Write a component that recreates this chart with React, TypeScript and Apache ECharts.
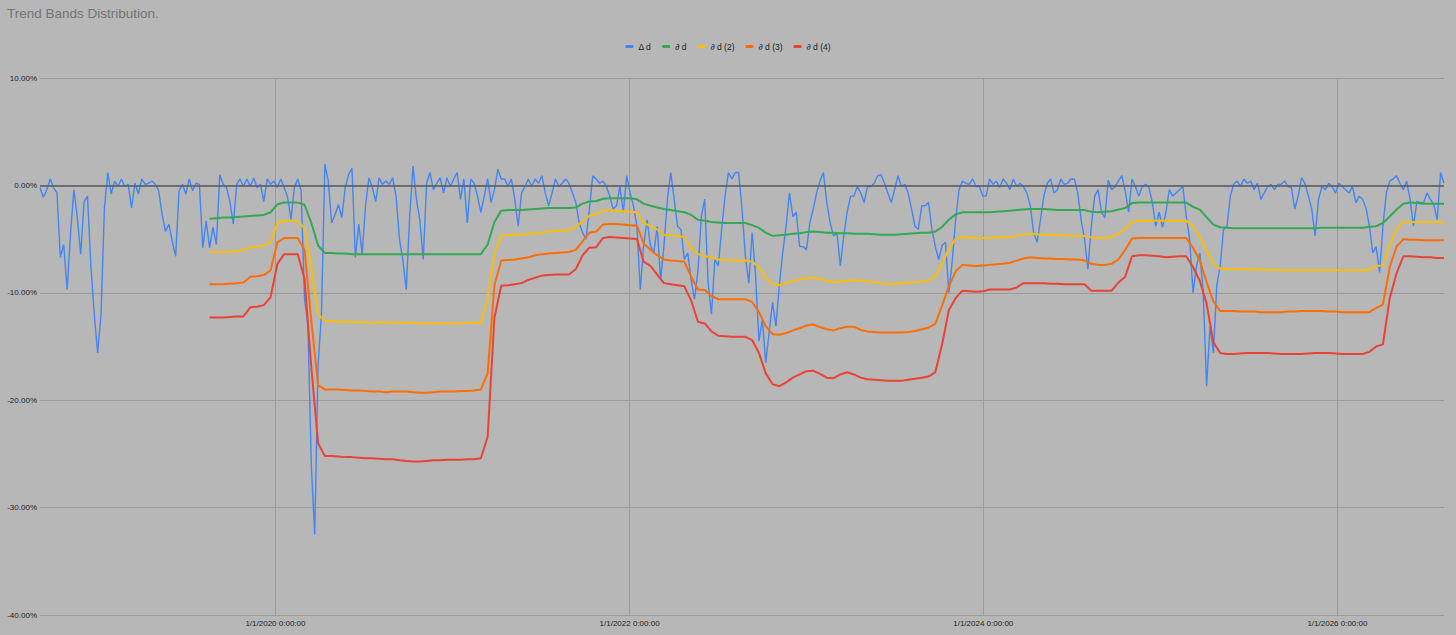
import React, { useEffect, useRef } from "react";
import * as echarts from "echarts";

const DAY = 86400000;
const blueStart = Date.UTC(2018, 8, 2);
const blueStepDays = 7;
const bandStart = Date.UTC(2018, 8, 2) + 350 * DAY;
const bandStepDays = 14;

const seriesNames = ["Δ d", "∂ d", "∂ d (2)", "∂ d (3)", "∂ d (4)"];
const seriesColors = ["#4285F4", "#34A853", "#FBBC04", "#FF6D01", "#EA4335"];
const xTickDates = [Date.UTC(2020, 0, 1), Date.UTC(2022, 0, 1), Date.UTC(2024, 0, 1), Date.UTC(2026, 0, 1)];

const deltaD = [
  -0.2,-1.1,-0.4,0.6,-0.2,-0.7,-6.7,-5.5,-9.7,-4.5,
  -0.4,-3.0,-6.4,-1.5,-1.0,-7.5,-12,-15.6,-12,-2.1,
  1.2,-0.8,0.4,-0.1,0.6,-0.1,0.1,-2.1,0.2,-0.8,
  0.6,0.1,0.2,0.4,0.1,-0.5,-2.7,-4.3,-3.6,-5.2,
  -6.6,-0.5,0.1,-0.8,0.6,-0.5,0.2,0.1,-5.8,-3.3,
  -5.8,-3.9,-5.5,1.0,0.1,-0.2,-1.5,-3.6,0.1,0.6,
  -0.1,0.6,-0.1,0.7,-0.2,0.1,-1.5,0.6,0.1,0.4,
  -0.2,0.6,-0.2,-1.1,-3.2,-0.2,0.6,-0.5,-10.5,-13,
  -26,-32.5,-16.7,-12,2.0,0.4,-3.5,-2.7,-1.8,-3.0,
  -0.2,1.0,1.6,-6.7,-3.6,-6.4,-1.8,0.7,-0.2,-1.5,
  0.7,0.1,0.4,0.1,0.7,-1.0,-5.0,-7.0,-9.7,-2.9,
  1.8,-1.3,-3.2,-6.9,0.2,1.2,-0.4,0.2,0.7,-0.7,
  0.7,-0.1,0.6,1.2,-1.3,0.6,-3.5,0.6,0.2,-1.0,
  -2.5,-1.0,0.6,-1.6,-0.4,1.5,0.6,0.6,-0.1,0.6,
  -1.3,-3.8,-0.7,-0.1,0.6,-0.1,0.6,0.2,0.9,-0.7,
  -1.9,-0.7,0.6,-0.1,0.2,0.6,0.2,-0.7,-1.6,-3.5,
  -4.4,-5.0,-2.2,0.9,0.6,0.2,0.4,-0.1,-1.0,-2.2,
  -1.9,-0.1,-2.5,0.9,-0.7,-1.9,-3.8,-9.7,-5.6,-3.2,
  -5.6,-6.3,-3.8,-8.8,-5.6,-1.3,1.2,-1.3,-3.8,-4.1,
  -6.9,-6.3,-8.8,-10.6,-8.0,-2.9,-1.3,-9.0,-12.0,-6.9,
  -7.5,-4.1,-1.0,1.2,0.6,1.2,1.2,-2.2,-6.6,-9.1,
  -4.4,-8.4,-14.5,-12.5,-16.5,-13.7,-10.9,-13.1,-9.3,-6.3,
  -3.8,-0.7,-2.9,-2.5,-5.7,-5.7,-6.0,-3.5,-2.2,-0.7,
  0.4,1.2,-1.6,-3.5,-4.7,-4.4,-7.5,-4.7,-2.5,-1.0,
  -1.0,-0.1,-0.7,-1.6,-0.1,-0.1,0.2,0.9,1.0,0.2,
  -0.7,-1.6,-0.4,0.9,-0.1,0.1,-0.7,-2.2,-3.8,-4.1,
  -1.9,-1.9,-1.6,-4.1,-5.7,-6.9,-5.6,-5.3,-10.0,-7.0,
  -3.2,-0.4,0.4,0.2,0.1,0.6,-0.1,-0.1,-1.0,-1.0,
  0.6,0.1,0.4,-0.2,0.6,0.2,-0.4,0.6,-0.1,0.2,
  -0.1,-0.7,-1.9,-4.4,-5.3,-3.2,-1.0,0.2,0.6,-0.7,
  -0.4,0.6,0.1,0.2,0.6,0.6,-0.7,-3.2,-5.0,-7.8,
  -3.8,-1.0,-0.4,-2.5,-3.0,0.5,-0.4,-0.1,0.4,0.9,
  -0.5,-2.5,0.6,-0.1,-1.0,-0.1,0.1,-0.2,-1.6,-3.8,
  -2.5,-3.9,-2.5,-0.4,-1.0,-0.7,-0.4,-0.1,-2.9,-5.0,
  -10.0,-7.5,-6.3,-10.0,-18.7,-13.1,-15.6,-9.3,-7.5,-4.1,
  -3.8,-1.0,0.1,0.4,-0.1,0.6,0.2,0.4,-0.4,0.2,
  -1.3,-0.7,-0.1,0.1,-0.4,0.1,0.1,0.4,-0.1,-0.2,
  -2.2,-1.0,0.7,0.2,-1.0,-2.2,-4.7,-1.3,-0.1,-0.4,
  0.2,-0.1,-0.7,0.2,-0.1,-0.4,-0.7,-0.1,-1.6,-1.0,
  -1.3,-2.1,-3.8,-6.3,-5.7,-8.1,-3.8,-0.7,0.4,0.6,
  0.9,0.2,-0.4,0.4,-1.3,-3.8,-1.5,-1.6,-1.6,-0.7,
  -1.3,-1.8,-3.2,1.2,0.2,
];

const band1 = [
  -3.1,-3.05,-3.0,-3.0,-2.95,-2.9,-2.85,-2.8,-2.75,-2.5,
  -1.75,-1.6,-1.6,-1.6,-1.8,-3.5,-5.6,-6.3,-6.3,-6.35,
  -6.35,-6.4,-6.4,-6.4,-6.4,-6.4,-6.4,-6.4,-6.4,-6.4,
  -6.4,-6.4,-6.4,-6.4,-6.4,-6.4,-6.4,-6.4,-6.4,-6.4,
  -6.4,-5.5,-3.4,-2.35,-2.3,-2.3,-2.3,-2.25,-2.2,-2.15,
  -2.1,-2.1,-2.1,-2.1,-2.05,-1.7,-1.5,-1.45,-1.25,-1.2,
  -1.2,-1.2,-1.2,-1.3,-1.7,-1.9,-2.05,-2.2,-2.3,-2.4,
  -2.5,-2.75,-3.2,-3.3,-3.4,-3.45,-3.5,-3.5,-3.5,-3.5,
  -3.7,-3.95,-4.4,-4.7,-4.65,-4.6,-4.5,-4.45,-4.35,-4.3,
  -4.35,-4.4,-4.4,-4.45,-4.45,-4.5,-4.5,-4.5,-4.55,-4.6,
  -4.6,-4.6,-4.55,-4.5,-4.45,-4.4,-4.4,-4.3,-3.85,-3.2,
  -2.7,-2.5,-2.5,-2.5,-2.5,-2.5,-2.45,-2.4,-2.35,-2.3,
  -2.25,-2.2,-2.2,-2.2,-2.25,-2.3,-2.3,-2.3,-2.3,-2.3,
  -2.45,-2.5,-2.45,-2.4,-2.25,-2.1,-1.65,-1.6,-1.6,-1.6,
  -1.6,-1.6,-1.6,-1.6,-1.6,-2.0,-2.25,-2.95,-3.65,-3.9,
  -3.95,-4.0,-4.0,-4.0,-4.0,-4.0,-4.0,-4.0,-4.0,-4.0,
  -4.0,-4.0,-4.0,-4.0,-3.95,-3.95,-3.95,-3.95,-3.95,-3.95,
  -3.95,-3.85,-3.8,-3.5,-2.9,-2.25,-1.7,-1.6,-1.65,-1.7,
  -1.7,-1.7,-1.7,
];

const band2 = [
  -6.2,-6.2,-6.2,-6.2,-6.15,-6.0,-5.8,-5.7,-5.6,-5.3,
  -3.5,-3.3,-3.3,-3.3,-4.0,-7.6,-12.0,-12.6,-12.65,-12.7,
  -12.7,-12.7,-12.75,-12.75,-12.8,-12.75,-12.75,-12.8,-12.8,-12.8,
  -12.8,-12.85,-12.85,-12.85,-12.85,-12.85,-12.85,-12.85,-12.8,-12.8,
  -12.8,-10.5,-6.4,-4.7,-4.65,-4.6,-4.6,-4.5,-4.45,-4.4,
  -4.3,-4.25,-4.2,-4.15,-3.9,-3.3,-2.85,-2.65,-2.4,-2.3,
  -2.35,-2.4,-2.45,-2.5,-3.5,-3.8,-4.1,-4.6,-4.65,-4.7,
  -4.8,-5.8,-6.4,-6.6,-6.7,-6.9,-6.95,-7.0,-7.0,-7.0,
  -7.1,-7.6,-8.6,-9.2,-9.3,-9.1,-8.9,-8.75,-8.65,-8.6,
  -8.7,-8.85,-9.0,-8.95,-8.85,-8.8,-8.85,-8.95,-9.0,-9.1,
  -9.2,-9.15,-9.1,-9.05,-9.0,-8.95,-8.85,-8.5,-7.3,-5.9,
  -5.0,-4.8,-4.85,-4.9,-4.9,-4.9,-4.85,-4.8,-4.8,-4.7,
  -4.55,-4.5,-4.55,-4.6,-4.6,-4.65,-4.65,-4.7,-4.7,-4.7,
  -4.85,-4.9,-4.9,-4.8,-4.5,-4.1,-3.35,-3.3,-3.3,-3.3,
  -3.3,-3.3,-3.3,-3.3,-3.3,-3.85,-4.8,-6.1,-7.3,-7.75,
  -7.8,-7.8,-7.8,-7.8,-7.8,-7.85,-7.85,-7.85,-7.9,-7.9,
  -7.9,-7.9,-7.9,-7.9,-7.9,-7.9,-7.9,-7.9,-7.9,-7.9,
  -7.9,-7.85,-7.5,-7.45,-5.6,-4.1,-3.4,-3.4,-3.4,-3.4,
  -3.4,-3.4,-3.4,
];

const band3 = [
  -9.2,-9.2,-9.2,-9.15,-9.1,-9.05,-8.5,-8.45,-8.35,-7.9,
  -5.3,-4.9,-4.9,-4.9,-6.0,-12.6,-18.6,-19.0,-19.0,-19.0,
  -19.05,-19.1,-19.1,-19.15,-19.2,-19.2,-19.25,-19.2,-19.2,-19.2,
  -19.25,-19.3,-19.3,-19.25,-19.2,-19.2,-19.2,-19.15,-19.15,-19.1,
  -19.0,-17.5,-9.3,-7.0,-6.95,-6.9,-6.8,-6.7,-6.5,-6.4,
  -6.35,-6.3,-6.25,-6.2,-6.0,-5.2,-4.4,-4.3,-3.65,-3.6,
  -3.6,-3.65,-3.7,-3.75,-5.4,-6.0,-6.5,-6.9,-7.0,-7.05,
  -7.1,-8.5,-9.7,-9.75,-10.3,-10.6,-10.6,-10.6,-10.6,-10.6,
  -10.85,-11.8,-13.1,-13.85,-13.9,-13.75,-13.5,-13.3,-13.05,-12.95,
  -13.2,-13.4,-13.5,-13.3,-13.15,-13.15,-13.45,-13.6,-13.65,-13.7,
  -13.7,-13.7,-13.7,-13.65,-13.55,-13.4,-13.25,-12.9,-11.2,-9.4,
  -8.0,-7.4,-7.45,-7.5,-7.45,-7.4,-7.35,-7.3,-7.2,-7.0,
  -6.8,-6.7,-6.75,-6.8,-6.8,-6.85,-6.85,-6.9,-6.9,-7.0,
  -7.3,-7.4,-7.4,-7.3,-6.9,-6.0,-4.95,-4.9,-4.9,-4.9,
  -4.9,-4.9,-4.9,-4.9,-4.9,-5.8,-7.0,-9.0,-10.8,-11.7,
  -11.7,-11.7,-11.75,-11.75,-11.75,-11.8,-11.8,-11.8,-11.8,-11.75,
  -11.75,-11.7,-11.7,-11.7,-11.7,-11.75,-11.75,-11.8,-11.8,-11.8,
  -11.8,-11.8,-11.4,-11.1,-7.6,-5.7,-5.0,-5.05,-5.05,-5.1,
  -5.1,-5.1,-5.1,
];

const band4 = [
  -12.3,-12.3,-12.3,-12.25,-12.2,-12.2,-11.35,-11.3,-11.15,-10.4,
  -7.3,-6.4,-6.4,-6.4,-8.7,-16.9,-24.0,-25.2,-25.2,-25.25,
  -25.3,-25.3,-25.35,-25.4,-25.4,-25.45,-25.5,-25.5,-25.6,-25.65,
  -25.7,-25.7,-25.65,-25.6,-25.6,-25.55,-25.55,-25.55,-25.5,-25.5,
  -25.4,-23.4,-12.3,-9.35,-9.3,-9.2,-9.1,-8.8,-8.6,-8.4,
  -8.35,-8.3,-8.3,-8.3,-7.8,-6.5,-5.8,-5.75,-4.9,-4.8,
  -4.85,-4.9,-4.95,-5.0,-7.1,-7.5,-8.3,-9.1,-9.2,-9.3,
  -9.4,-10.7,-12.7,-12.85,-13.6,-14.0,-14.05,-14.1,-14.1,-14.1,
  -14.4,-15.6,-17.5,-18.5,-18.7,-18.35,-17.9,-17.6,-17.3,-17.25,
  -17.55,-17.9,-17.95,-17.6,-17.4,-17.6,-17.9,-18.05,-18.1,-18.15,
  -18.2,-18.2,-18.2,-18.1,-18.0,-17.9,-17.8,-17.4,-14.8,-11.6,
  -10.5,-9.8,-9.85,-9.9,-9.85,-9.7,-9.7,-9.7,-9.7,-9.5,
  -9.1,-9.1,-9.1,-9.1,-9.15,-9.15,-9.2,-9.2,-9.2,-9.2,
  -9.8,-9.8,-9.8,-9.8,-9.05,-8.5,-6.6,-6.5,-6.5,-6.55,
  -6.6,-6.7,-6.65,-6.6,-6.6,-7.6,-8.9,-11.0,-14.6,-15.6,
  -15.7,-15.7,-15.65,-15.6,-15.6,-15.6,-15.6,-15.65,-15.7,-15.7,
  -15.7,-15.7,-15.65,-15.6,-15.6,-15.6,-15.65,-15.7,-15.7,-15.7,
  -15.7,-15.5,-15.0,-14.8,-10.5,-8.2,-6.6,-6.6,-6.65,-6.7,
  -6.7,-6.75,-6.75,
];

const yTicks = { min: -40, max: 10, interval: 10 };

function toPairs(values: number[], start: number, stepDays: number) {
  return values.map((v, i) => [start + i * stepDays * DAY, v]);
}

function fmtDate(val: number) {
  const d = new Date(val);
  return `${d.getUTCMonth() + 1}/${d.getUTCDate()}/${d.getUTCFullYear()} 0:00:00`;
}

export default function App() {
  const ref = useRef<HTMLDivElement>(null);
  useEffect(() => {
    if (!ref.current) return;
    const chart = echarts.init(ref.current, null, { renderer: "svg" });
    const font = "'Liberation Sans', Arial, sans-serif";
    const xMin = blueStart;
    const xMax = blueStart + (deltaD.length - 1) * blueStepDays * DAY;
    const bands = [band1, band2, band3, band4];
    const lineSeries: any[] = [
      {
        name: seriesNames[0],
        type: "line",
        data: toPairs(deltaD, blueStart, blueStepDays),
        showSymbol: false,
        symbol: "none",
        lineStyle: { color: seriesColors[0], width: 1.4 },
        itemStyle: { color: seriesColors[0] },
        z: 3,
      },
      ...bands.map((b, i) => ({
        name: seriesNames[i + 1],
        type: "line",
        data: toPairs(b, bandStart, bandStepDays),
        showSymbol: false,
        symbol: "none",
        lineStyle: { color: seriesColors[i + 1], width: 2 },
        itemStyle: { color: seriesColors[i + 1] },
        z: 4,
      })),
      {
        name: "zero",
        type: "line",
        data: [],
        z: 1,
        markLine: {
          silent: true,
          symbol: ["none", "none"],
          label: { show: false },
          lineStyle: { color: "#5a5a5a", width: 1.5, type: "solid" },
          data: [{ yAxis: 0 }],
        },
      },
    ];
    chart.setOption({
      animation: false,
      backgroundColor: "#b7b7b7",
      textStyle: { fontFamily: font },
      title: {
        text: "Trend Bands Distribution.",
        left: 2,
        top: 1,
        textStyle: { fontSize: 13.5, fontWeight: "normal", color: "#747474", fontFamily: font },
      },
      legend: {
        data: seriesNames,
        top: 37,
        left: "center",
        icon: "roundRect",
        itemWidth: 8,
        itemHeight: 3,
        itemGap: 11,
        textStyle: { fontSize: 8.5, color: "#222222", fontFamily: font },
      },
      grid: { left: 40, right: 12, top: 78, bottom: 20, containLabel: false },
      xAxis: {
        type: "value",
        min: xMin,
        max: xMax,
        axisLine: { show: false },
        axisTick: { show: false, customValues: xTickDates },
        axisLabel: {
          customValues: xTickDates,
          formatter: (v: number) => fmtDate(v),
          fontSize: 8,
          color: "#222222",
          margin: 4,
          fontFamily: font,
        },
        splitLine: { show: true, lineStyle: { color: "#9b9b9b", width: 1 } },
      },
      yAxis: {
        type: "value",
        min: yTicks.min,
        max: yTicks.max,
        interval: yTicks.interval,
        axisLine: { show: false },
        axisTick: { show: false },
        axisLabel: {
          formatter: (v: number) => v.toFixed(2) + "%",
          fontSize: 8,
          color: "#222222",
          margin: 3,
          fontFamily: font,
        },
        splitLine: { show: true, lineStyle: { color: "#9b9b9b", width: 1 } },
      },
      series: lineSeries,
    });
    return () => chart.dispose();
  }, []);
  return (
    <div
      ref={ref}
      style={{ position: "fixed", left: 0, top: 0, width: 1456, height: 635 }}
    />
  );
}
